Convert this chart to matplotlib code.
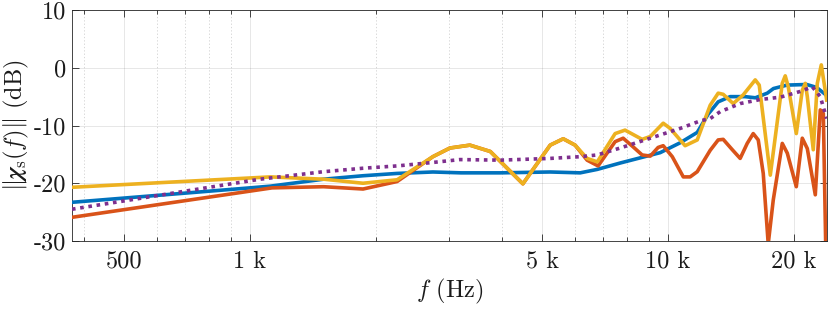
## ############################################################################################# ##
## Chi_s magnitude vs frequency
## ############################################################################################# ##
import numpy             as     np
import matplotlib
matplotlib.use('Agg')
import matplotlib.pyplot as     plt
from   matplotlib.ticker import FixedLocator, FixedFormatter, NullFormatter

## ********************************************************************************************* ##
## Data
## ********************************************************************************************* ##
f_yel   = [375, 1120, 1500, 1865, 2250, 2740, 3010, 3360, 3760, 4500, 5230, 5620, 6000, 6410,
           6780, 7480, 7900, 8680, 9080, 9750, 10130, 11000, 11760, 12630, 13200, 13570, 14340,
           15150, 16190, 16550, 17590, 18790, 19100, 19420, 20300, 20980, 21330, 21570, 22290,
           22790, 23300, 24000]
db_yel  = [-20.7, -18.9, -19.3, -20.0, -19.4, -15.4, -13.9, -13.4, -14.5, -20.1, -13.4, -12.3,
           -13.4, -15.7, -16.3, -11.4, -10.8, -12.4, -11.9, -9.6, -10.5, -13.5, -12.5, -6.5,
           -4.4, -4.6, -6.2, -4.7, -2.1, -3.0, -18.6, -2.7, -1.4, -3.3, -11.4, -3.9, -2.7, -5.0,
           -14.2, -2.7, 0.5, -5.6]

f_org   = [375, 1130, 1500, 1865, 2250, 2740, 3010, 3360, 3760, 4500, 5230, 5620, 6000, 6410,
           6810, 7480, 7820, 8260, 8680, 9080, 9480, 9750, 10250, 10890, 11310, 11760, 12630,
           13200, 13570, 14270, 14900, 15490, 16010, 16460, 16920, 17390, 17880, 18790, 19320,
           20300, 20980, 21570, 22540, 23170, 23560, 24000]
db_org  = [-25.9, -20.8, -20.6, -21.0, -19.7, -15.4, -13.9, -13.4, -14.5, -20.1, -13.4, -12.3,
           -13.4, -16.0, -17.0, -12.8, -12.2, -13.7, -15.1, -15.3, -13.8, -13.5, -15.4, -18.9,
           -18.9, -18.0, -14.3, -12.5, -12.4, -14.2, -15.7, -13.1, -11.4, -12.5, -18.3, -30.5,
           -22.9, -13.1, -14.8, -20.6, -12.2, -14.0, -22.0, -7.3, -7.9, -40.0]

f_blu   = [375, 1000, 1120, 1500, 1865, 2250, 2740, 3200, 3970, 5230, 6170, 6780, 7690, 8590,
           9590, 10700, 11760, 12500, 13200, 14100, 15300, 16200, 17300, 17900, 19300, 21500,
           22700, 24000]
db_blu  = [-23.3, -20.8, -20.5, -19.3, -18.7, -18.3, -18.05, -18.2, -18.2, -18.05, -18.2, -17.6,
           -16.5, -15.6, -14.7, -13.0, -11.2, -8.0, -5.9, -5.0, -5.0, -5.2, -4.4, -3.6, -3.0,
           -2.9, -3.4, -4.8]

f_pur   = [375, 1057, 1500, 1865, 2250, 2740, 3180, 3970, 5230, 6170, 6780, 7690, 9080, 10710,
           11960, 12630, 13350, 14900, 16640, 18580, 20750, 22170, 23170, 24000]
db_pur  = [-24.5, -19.3, -18.0, -17.4, -17.0, -16.4, -15.9, -16.0, -15.7, -15.4, -15.1, -13.9,
           -12.2, -10.5, -9.2, -8.8, -7.6, -6.2, -5.5, -5.1, -4.1, -3.3, -5.0, -8.8]

xmajor  = [500, 1000, 5000, 10000, 20000]
xlabels = ['500', '1 k', '5 k', '10 k', '20 k']
xminor  = [400, 600, 700, 800, 900, 2000, 3000, 4000, 6000, 7000, 8000, 9000]
yticks  = [-30, -20, -10, 0, 10]
ylabels = ['-30', '-20', '-10', '0', '10']

## ********************************************************************************************* ##
## Plot
## ********************************************************************************************* ##
plt.rcParams['font.family']      = 'cmr10'
plt.rcParams['mathtext.fontset'] = 'cm'

C_BLU   = (0.000, 0.447, 0.741)
C_ORG   = (0.850, 0.325, 0.098)
C_YEL   = (0.929, 0.694, 0.125)
C_PUR   = (0.494, 0.184, 0.556)
FS      = 17.5

fig     = plt.figure(figsize=(8.30, 3.09), dpi=100)
ax      = fig.add_axes([0.0867, 0.2201, 0.9093, 0.7475])

lw      = 2.6
ax.plot(f_blu, db_blu, color=C_BLU, lw=lw, zorder=3)
ax.plot(f_org, db_org, color=C_ORG, lw=lw, zorder=4)
ax.plot(f_yel, db_yel, color=C_YEL, lw=lw, zorder=5)
ax.plot(f_pur, db_pur, color=C_PUR, lw=lw, zorder=6, linestyle=(0, (1.0, 1.3)),
        dash_capstyle='butt')

ax.set_xscale('log')
ax.set_xlim(375, 24000)
ax.set_ylim(-30, 10)

ax.xaxis.set_major_locator(FixedLocator(xmajor))
ax.xaxis.set_major_formatter(FixedFormatter(xlabels))
ax.xaxis.set_minor_locator(FixedLocator(xminor))
ax.xaxis.set_minor_formatter(NullFormatter())
ax.yaxis.set_major_locator(FixedLocator(yticks))
ax.yaxis.set_major_formatter(FixedFormatter(ylabels))

ax.grid(True, which='major', color='0.15', alpha=0.13, lw=0.6, ls='-')
ax.grid(True, which='minor', axis='x', color='0.15', alpha=0.22, lw=0.6, ls=(0, (1.5, 2.5)))
ax.set_axisbelow(True)

ax.tick_params(which='both', direction='in', top=True, right=True, colors='0.15',
               labelcolor='0.1', labelsize=FS, width=0.6)
ax.tick_params(which='major', length=5)
ax.tick_params(which='minor', length=3)
ax.tick_params(axis='x', pad=7)
ax.tick_params(axis='y', pad=4)
for s in ax.spines.values():
    s.set_color('0.15')
    s.set_linewidth(0.6)

ax.set_xlabel(r'$f$ (Hz)', fontsize=FS, color='0.1', labelpad=3)
ax.set_ylabel(r'$\Vert\boldsymbol{\chi}_{\mathrm{s}}(f)\Vert$ (dB)', fontsize=FS, color='0.1',
              labelpad=2)

fig.savefig('out.png', dpi=100)
